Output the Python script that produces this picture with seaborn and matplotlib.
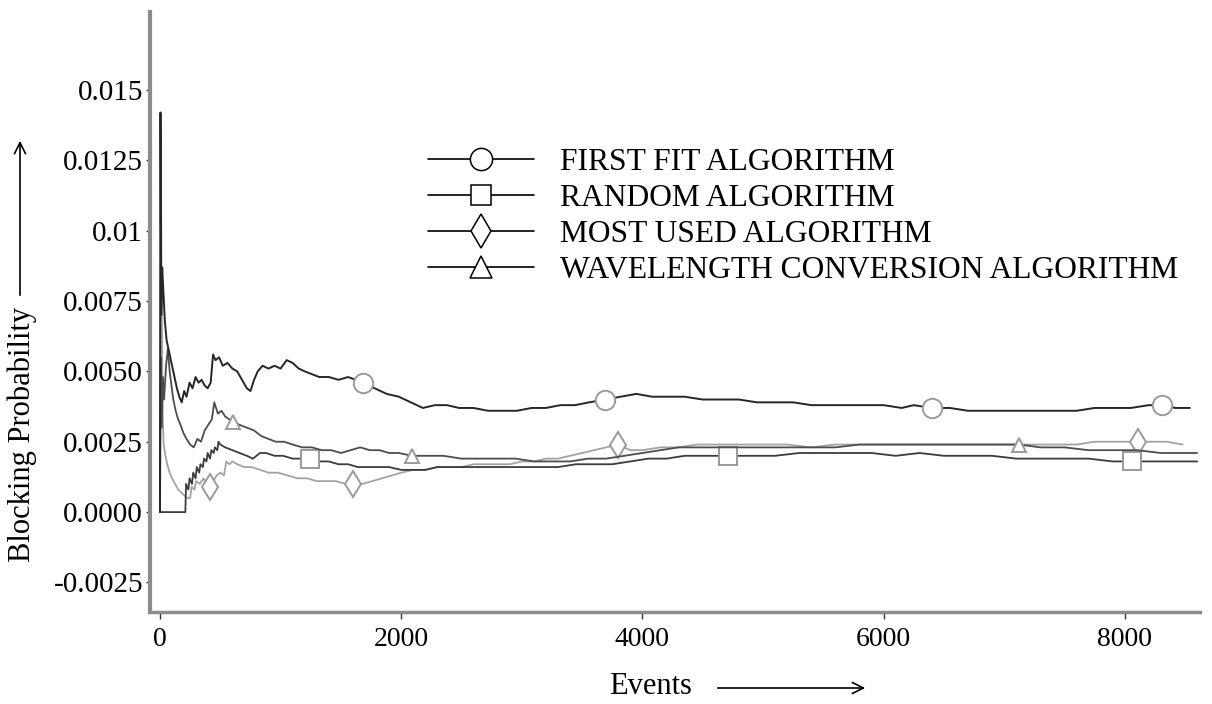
import matplotlib
matplotlib.use("Agg")
import matplotlib.pyplot as plt
from matplotlib.lines import Line2D
from matplotlib.ticker import FixedLocator, FixedFormatter
import seaborn as sns

# ---- First Fit algorithm ----
ff_events = [0, 4, 10, 18, 26, 40, 55, 70, 85, 100, 120, 140, 160, 180, 200, 220, 245, 270,
             295, 320, 345, 370, 395, 420, 440, 460, 490, 520, 560, 600, 640, 680, 720, 750,
             780, 810, 850, 900, 950, 1000, 1050, 1100, 1150, 1200, 1260, 1320, 1400, 1480,
             1560, 1683, 1780, 1880, 1980, 2080, 2180, 2280, 2380, 2480, 2600, 2720, 2840,
             2960, 3080, 3200, 3320, 3440, 3560, 3690, 3820, 3950, 4080, 4200, 4350, 4500,
             4650, 4800, 4950, 5100, 5250, 5400, 5550, 5700, 5850, 6000, 6150, 6250, 6400,
             6550, 6700, 6850, 7000, 7150, 7300, 7450, 7600, 7750, 7900, 8050, 8200, 8308,
             8420, 8540]
ff_values = [0.0, 0.0142, 0.0070, 0.0087, 0.0080, 0.0068, 0.0061, 0.0058, 0.0055, 0.0052,
             0.0048, 0.0044, 0.0041, 0.0039, 0.0043, 0.0041, 0.0046, 0.0044, 0.0048, 0.0046,
             0.0047, 0.0045, 0.0044, 0.0046, 0.0056, 0.0054, 0.0055, 0.0052, 0.0053, 0.0051,
             0.0050, 0.0047, 0.0044, 0.0043, 0.0047, 0.0050, 0.0052, 0.0051, 0.0052, 0.0051,
             0.0054, 0.0053, 0.0051, 0.0050, 0.0049, 0.0048, 0.0048, 0.0047, 0.0048, 0.0046,
             0.0044, 0.0042, 0.0041, 0.0039, 0.0037, 0.0038, 0.0038, 0.0037, 0.0037, 0.0036,
             0.0036, 0.0036, 0.0037, 0.0037, 0.0038, 0.0038, 0.0039, 0.0040, 0.0041, 0.0042,
             0.0041, 0.0041, 0.0041, 0.0040, 0.0040, 0.0040, 0.0039, 0.0039, 0.0039, 0.0038,
             0.0038, 0.0038, 0.0038, 0.0038, 0.0037, 0.0038, 0.0037, 0.0037, 0.0036, 0.0036,
             0.0036, 0.0036, 0.0036, 0.0036, 0.0036, 0.0037, 0.0037, 0.0037, 0.0038, 0.0038,
             0.0037, 0.0037]
ff_marks = [1683, 3690, 6400, 8308]

# ---- Random algorithm ----
rd_events = [0, 50, 100, 150, 210, 216, 235, 245, 265, 275, 295, 305, 325, 335, 355, 365,
             385, 395, 415, 425, 445, 455, 475, 485, 500, 540, 600, 660, 720, 770, 830, 880,
             950, 1020, 1100, 1170, 1244, 1320, 1400, 1480, 1560, 1640, 1720, 1800, 1900,
             2000, 2100, 2200, 2300, 2400, 2500, 2600, 2700, 2800, 2900, 3000, 3150, 3300,
             3450, 3600, 3750, 3900, 4050, 4200, 4350, 4500, 4706, 4900, 5100, 5300, 5500,
             5700, 5900, 6100, 6300, 6500, 6700, 6900, 7100, 7300, 7500, 7700, 7900, 8060,
             8250, 8450, 8600]
rd_values = [0.0, 0.0, 0.0, 0.0, 0.0, 0.0010, 0.0008, 0.0012, 0.0010, 0.0014, 0.0012, 0.0016,
             0.0014, 0.0017, 0.0016, 0.0019, 0.0018, 0.0021, 0.0019, 0.0022, 0.0021, 0.0023,
             0.0022, 0.0025, 0.0024, 0.0023, 0.0022, 0.0021, 0.0020, 0.0019, 0.0021, 0.0021,
             0.0020, 0.0020, 0.0019, 0.0019, 0.0019, 0.0018, 0.0018, 0.0017, 0.0017, 0.0016,
             0.0016, 0.0016, 0.0016, 0.0015, 0.0015, 0.0015, 0.0016, 0.0016, 0.0016, 0.0016,
             0.0016, 0.0016, 0.0016, 0.0016, 0.0016, 0.0016, 0.0017, 0.0017, 0.0017, 0.0018,
             0.0019, 0.0019, 0.0020, 0.0020, 0.0020, 0.0020, 0.0020, 0.0021, 0.0021, 0.0021,
             0.0021, 0.0020, 0.0021, 0.0020, 0.0020, 0.0020, 0.0019, 0.0019, 0.0019, 0.0019,
             0.0018, 0.0018, 0.0018, 0.0018, 0.0018]
rd_marks = [1244, 4706, 8060]

# ---- Most Used algorithm ----
mu_events = [0, 6, 14, 22, 30, 45, 60, 80, 100, 125, 150, 175, 200, 225, 250, 262, 285, 300,
             330, 360, 390, 415, 440, 470, 500, 530, 550, 575, 600, 640, 700, 760, 830, 900,
             980, 1060, 1140, 1220, 1300, 1380, 1460, 1540, 1600, 1680, 1760, 1840, 1920,
             2000, 2100, 2200, 2300, 2400, 2500, 2600, 2700, 2800, 2900, 3000, 3100, 3200,
             3300, 3400, 3500, 3600, 3700, 3800, 3900, 4000, 4150, 4300, 4450, 4600, 4800,
             5000, 5200, 5400, 5600, 5800, 6000, 6200, 6400, 6600, 6800, 7000, 7200, 7400,
             7600, 7750, 7900, 8000, 8107, 8200, 8350, 8480]
mu_values = [0.0, 0.0129, 0.0078, 0.0035, 0.0024, 0.0020, 0.0017, 0.0014, 0.0012, 0.0010,
             0.0008, 0.0007, 0.0006, 0.0005, 0.0005, 0.0009, 0.0008, 0.0011, 0.0010, 0.0012,
             0.0010, 0.0009, 0.0011, 0.0013, 0.0014, 0.0013, 0.0018, 0.0017, 0.0018, 0.0017,
             0.0016, 0.0016, 0.0015, 0.0014, 0.0014, 0.0013, 0.0012, 0.0012, 0.0011, 0.0011,
             0.0011, 0.0010, 0.0010, 0.0010, 0.0011, 0.0012, 0.0013, 0.0014, 0.0015, 0.0015,
             0.0016, 0.0016, 0.0016, 0.0017, 0.0017, 0.0017, 0.0017, 0.0018, 0.0018, 0.0019,
             0.0019, 0.0020, 0.0021, 0.0022, 0.0023, 0.0024, 0.0022, 0.0022, 0.0023, 0.0023,
             0.0024, 0.0024, 0.0024, 0.0024, 0.0024, 0.0023, 0.0024, 0.0024, 0.0024, 0.0024,
             0.0024, 0.0024, 0.0024, 0.0024, 0.0024, 0.0024, 0.0024, 0.0025, 0.0025, 0.0025,
             0.0025, 0.0025, 0.0025, 0.0024]
mu_marks = [415, 1600, 3800, 8107]

# ---- Wavelength Conversion algorithm ----
wc_events = [0, 6, 14, 24, 34, 50, 65, 80, 95, 110, 130, 150, 170, 195, 220, 250, 280, 310,
             340, 370, 400, 430, 450, 480, 510, 540, 605, 660, 720, 780, 840, 900, 960, 1030,
             1100, 1180, 1260, 1340, 1420, 1500, 1580, 1660, 1740, 1820, 1900, 1980, 2090,
             2200, 2350, 2500, 2650, 2800, 2950, 3100, 3250, 3400, 3550, 3700, 3850, 4000,
             4150, 4300, 4450, 4600, 4800, 5000, 5200, 5400, 5600, 5800, 6000, 6200, 6400,
             6600, 6800, 7000, 7123, 7300, 7500, 7700, 7900, 8100, 8300, 8500, 8600]
wc_values = [0.0, 0.0055, 0.0030, 0.0048, 0.0040, 0.0052, 0.0058, 0.0050, 0.0045, 0.0040,
             0.0036, 0.0033, 0.0031, 0.0028, 0.0026, 0.0024, 0.0023, 0.0026, 0.0025, 0.0029,
             0.0031, 0.0033, 0.0039, 0.0035, 0.0036, 0.0034, 0.0032, 0.0031, 0.0030, 0.0029,
             0.0027, 0.0026, 0.0025, 0.0025, 0.0024, 0.0023, 0.0023, 0.0022, 0.0022, 0.0021,
             0.0022, 0.0023, 0.0022, 0.0022, 0.0021, 0.0021, 0.0020, 0.0020, 0.0020, 0.0019,
             0.0019, 0.0019, 0.0019, 0.0018, 0.0018, 0.0018, 0.0019, 0.0019, 0.0020, 0.0021,
             0.0022, 0.0023, 0.0023, 0.0023, 0.0023, 0.0023, 0.0023, 0.0023, 0.0023, 0.0024,
             0.0024, 0.0024, 0.0024, 0.0024, 0.0024, 0.0024, 0.0024, 0.0023, 0.0023, 0.0022,
             0.0022, 0.0022, 0.0021, 0.0021, 0.0021]
wc_marks = [605, 2090, 7123]

series_names = ["FIRST FIT ALGORITHM", "RANDOM ALGORITHM",
                "MOST USED ALGORITHM", "WAVELENGTH CONVERSION ALGORITHM"]

x_ticks = [0, 2000, 4000, 6000, 8000]
y_ticks = [-0.0025, 0.0, 0.0025, 0.005, 0.0075, 0.01, 0.0125, 0.015]
y_tick_labels = ["-0.0025", "0.0000", "0.0025", "0.0050", "0.0075", "0.01", "0.0125", "0.015"]

sns.set_style("white")
plt.rcParams["font.family"] = ["Liberation Serif", "DejaVu Serif"]
plt.rcParams["text.color"] = "black"

W, H = 1212, 704
fig = plt.figure(figsize=(W / 100, H / 100), dpi=100)
ax = fig.add_axes([150 / W, 1 - 612 / H, 1050 / W, 600 / H])

# drawing order: light curves first, first-fit on top
styles = [
    (mu_events, mu_values, mu_marks, "d", 13, "#a3a3a3", 1.3),
    (rd_events, rd_values, rd_marks, "s", 13, "#3c3c3c", 1.3),
    (wc_events, wc_values, wc_marks, "^", 10, "#4d4d4d", 1.3),
    (ff_events, ff_values, ff_marks, "o", 14, "#262626", 1.4),
]
for ev, val, marks, mk, ms, col, lw in styles:
    idx = [ev.index(m) for m in marks]
    sns.lineplot(x=ev, y=val, ax=ax, sort=False, estimator=None, errorbar=None,
                 color=col, linewidth=lw, marker=mk, markersize=ms, markevery=idx,
                 markerfacecolor="white", markeredgecolor="#9a9a9a",
                 markeredgewidth=1.4)

ax.set_xlim(-83, 8624)
ax.set_ylim(-0.00355, 0.01777)
ax.xaxis.set_major_locator(FixedLocator(x_ticks))
ax.xaxis.set_major_formatter(FixedFormatter([str(t) for t in x_ticks]))
ax.yaxis.set_major_locator(FixedLocator(y_ticks))
ax.yaxis.set_major_formatter(FixedFormatter(y_tick_labels))
ax.set_xlabel("")
ax.set_ylabel("")

for side in ("top", "right"):
    ax.spines[side].set_visible(False)
ax.spines["left"].set_color("#8c8c8c")
ax.spines["left"].set_linewidth(3)
ax.spines["bottom"].set_color("#8c8c8c")
ax.spines["bottom"].set_linewidth(2.5)
ax.tick_params(axis="y", direction="out", length=3, width=1, color="#333333",
               pad=2, labelsize=21, labelcolor="black", left=True)
ax.tick_params(axis="x", direction="out", length=5, width=1, color="#333333",
               pad=6, labelsize=20, labelcolor="black", bottom=True)

# legend with black-outlined symbols
handles = [
    Line2D([], [], color="black", lw=1.2, marker="o", markersize=16,
           markerfacecolor="white", markeredgecolor="black", markeredgewidth=1.1),
    Line2D([], [], color="black", lw=1.2, marker="s", markersize=15,
           markerfacecolor="white", markeredgecolor="black", markeredgewidth=1.1),
    Line2D([], [], color="black", lw=1.2, marker="d", markersize=17,
           markerfacecolor="white", markeredgecolor="black", markeredgewidth=1.1),
    Line2D([], [], color="black", lw=1.2, marker="^", markersize=16,
           markerfacecolor="white", markeredgecolor="black", markeredgewidth=1.1),
]
ax.legend(handles, series_names, loc="upper left",
          bbox_to_anchor=(428 / W, 1 - 148 / H), bbox_transform=fig.transFigure,
          frameon=False, fontsize=22.7, handlelength=3.35, handletextpad=0.85,
          labelspacing=0.22, borderpad=0, borderaxespad=0, numpoints=1,
          labelcolor="black")

# axis titles with direction arrows
fig.text(22 / W, 1 - 434 / H, "Blocking Probability", rotation=90,
         ha="center", va="center", fontsize=22, color="black")
ax.annotate("", xy=(20 / W, 1 - 138 / H), xytext=(20 / W, 1 - 298 / H),
            xycoords="figure fraction", textcoords="figure fraction",
            arrowprops=dict(arrowstyle="->", lw=1.2, color="black", mutation_scale=20))
fig.text(650 / W, 1 - 686 / H, "Events", ha="center", va="center", fontsize=22,
         color="black")
ax.annotate("", xy=(868 / W, 1 - 688 / H), xytext=(715 / W, 1 - 688 / H),
            xycoords="figure fraction", textcoords="figure fraction",
            arrowprops=dict(arrowstyle="->", lw=1.2, color="black", mutation_scale=20))

fig.savefig("out.png", dpi=100)
